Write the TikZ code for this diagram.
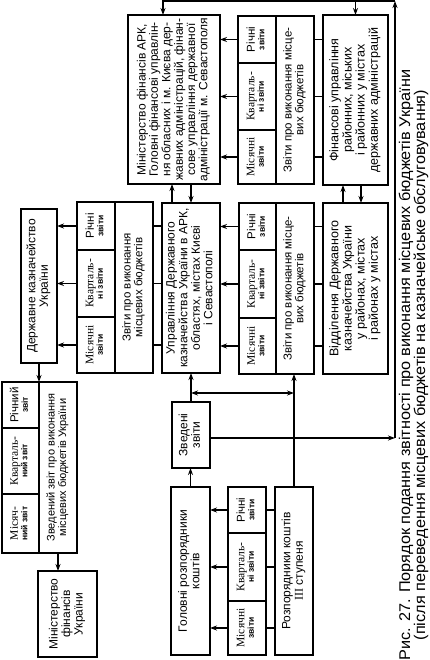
\documentclass[tikz,border=0pt]{standalone}
\usepackage{fontspec}
\setmainfont{Liberation Sans}
\newfontfamily\serf{Liberation Serif}
\newfontfamily\capf{Liberation Sans}[FakeStretch=1.05]
\usepackage{graphicx}
\usetikzlibrary{arrows.meta}
\tikzset{
 bx/.style={draw, line width=1.5pt, inner sep=0pt, outer sep=0pt},
 ln/.style={line width=1.2pt},
 arr/.style={line width=1.2pt, -{Stealth[length=7pt,width=5pt]}},
 darr/.style={line width=1.2pt, {Stealth[length=7pt,width=5pt]}-{Stealth[length=7pt,width=5pt]}},
}
\newcommand\bxn[6]{\pgfmathsetmacro\bxw{#4-#2}\pgfmathsetmacro\bxh{#5-#3}%
 \node[bx, minimum width=\bxw pt, minimum height=\bxh pt] (#1) at ({(#2+#4)/2},{(#3+#5)/2}) {\rotatebox{90}{#6}};}
\newcommand\tb[3]{\fontsize{#1}{#2}\selectfont\begin{tabular}{@{}c@{}}#3\end{tabular}}
\newcommand\repc[2]{\fontsize{11.5}{10.5}\selectfont\begin{tabular}{@{}c@{}}#1\\[-1pt]{\fontsize{8.5}{9}\selectfont\bfseries #2}\end{tabular}}
\begin{document}
\begin{tikzpicture}[x=1pt,y=-1pt]
\useasboundingbox (0,0) rectangle (430,660);
% main boxes
\bxn{mfark}{128}{15}{220}{184}{\tb{12}{12}{Міністерство фінансів АРК,\\Головні фінансові управлін-\\ня обласних і м. Києва дер-\\жавних адміністрацій, фінан-\\сове управління державної\\адміністрації м. Севастополя}}
\bxn{fin}{323}{15}{388}{185}{\tb{12.5}{13}{Фінансові управління\\районних, міських\\і районних у містах\\державних адміністрацій}}
\bxn{upr}{162}{203}{220}{373}{\tb{12}{12.5}{Управління Державного\\казначейства України в АРК,\\областях, містах Києві\\і Севастополі}}
\bxn{vid}{323}{203}{388}{374}{\tb{12.5}{13}{Відділення Державного\\казначейства України\\у районах, містах\\і районах у містах}}
\bxn{dk}{21}{209}{57}{363}{\tb{12}{12.5}{Державне казначейство\\України}}
% group A
\bxn{aRi}{238}{16}{276}{63}{\repc{Річні}{звіти}}
\bxn{aKv}{238}{63}{276}{130}{\repc{\serf Кварталь-}{ні звіти}}
\bxn{aMi}{238}{130}{276}{184}{\repc{\serf Місячні}{звіти}}
\bxn{aZ}{276}{16}{314}{184}{\tb{11.5}{11.5}{Звіти про виконання місце-\\вих бюджетів}}
% group B
\bxn{bRi}{239}{203}{276}{250}{\repc{Річні}{звіти}}
\bxn{bKv}{239}{250}{276}{318}{\repc{\serf Кварталь-}{ні звіти}}
\bxn{bMi}{239}{318}{276}{374}{\repc{\serf Місячні}{звіти}}
\bxn{bZ}{276}{203}{314}{374}{\tb{11.5}{11.5}{Звіти про виконання місце-\\вих бюджетів}}
% group C
\bxn{cRi}{77}{202}{115}{250}{\repc{Річні}{звіти}}
\bxn{cKv}{77}{250}{115}{317}{\repc{\serf Кварталь-}{ні звіти}}
\bxn{cMi}{77}{317}{115}{373}{\repc{\serf Місячні}{звіти}}
\bxn{cZ}{115}{202}{153}{373}{\tb{11.5}{11.5}{Звіти про виконання\\місцевих бюджетів}}
% consolidated group
\bxn{zRi}{2}{382}{39}{428}{\repc{Річний}{звіт}}
\bxn{zKv}{2}{428}{39}{494}{\repc{\serf Кварталь-}{ний звіт}}
\bxn{zMi}{2}{494}{39}{553}{\repc{\serf Місяч-}{ний звіт}}
\bxn{zZ}{39}{382}{77}{553}{\tb{11}{11.5}{Зведений звіт про виконання\\місцевих бюджетів України}}
\bxn{mfu}{38}{571}{97}{657}{\tb{12}{12.5}{Міністерство\\фінансів\\України}}
% lower part
\bxn{hol}{171}{487}{210}{655}{\tb{12}{12.5}{Головні розпорядники\\коштів}}
\bxn{dRi}{228}{487}{266}{533}{\repc{Річні}{звіти}}
\bxn{dKv}{228}{533}{266}{601}{\repc{\serf Кварталь-}{ні звіти}}
\bxn{dMi}{228}{601}{266}{655}{\repc{\serf Місячні}{звіти}}
\bxn{roz}{275}{487}{313}{655}{\tb{12}{12.5}{Розпорядники коштів\\{\serf III} ступеня}}
\bxn{zv}{172}{402}{210}{468}{\tb{12}{12.5}{Зведені\\звіти}}
% caption
\node[inner sep=0pt] (cap1) at (406,365) {\rotatebox{90}{\capf\fontsize{15.5}{15}\selectfont Рис. 27. Порядок подання звітності про виконання місцевих бюджетів України}};
\node[inner sep=0pt] (cap2) at (421,365) {\rotatebox{90}{\capf\fontsize{15.5}{15}\selectfont (після переведення місцевих бюджетів на казначейське обслуговування)}};
% report arrows and stubs
\foreach \g/\src/\dst in {a/fin/mfark, b/vid/upr, c/upr/dk}{
  \foreach \r in {Ri,Kv,Mi}{
    \draw[arr] (\g\r.west) -- (\g\r.west -| \dst.east);
    \draw[ln] (\g\r.center -| \src.west) -- (\g\r.center -| \g Z.east);
  }
}
\foreach \r in {Ri,Kv,Mi}{
  \draw[arr] (d\r.west) -- (d\r.west -| hol.east);
  \draw[ln] (d\r.east) -- (d\r.east -| roz.west);
}
% vertical links
\draw[arr] (upr.north -| 172,0) -- (mfark.south -| 172,0);
\draw[arr] (mfark.south -| 191,0) -- (upr.north -| 191,0);
\draw[arr] (vid.north -| 343,0) -- (fin.south -| 343,0);
\draw[arr] (fin.south -| 361,0) -- (vid.north -| 361,0);
\draw[arr] (dk.south) -- (dk.south |- zZ.north);
\draw[arr] (zZ.south) -- (zZ.south |- mfu.north);
\draw[arr] (hol.north) -- (hol.north |- zv.south);
\draw[arr] (zv.north) -- (zv.north |- upr.south);
\draw[arr] (roz.north) -- (roz.north |- bZ.south);
\draw[darr] (zv.north |- 0,393) -- (roz.north |- 0,393);
% return loop
\coordinate (br) at (395,438);
\coordinate (tr) at (395,1);
\draw[arr] (zv.east |- br) -- (br);
\draw[arr] (br) -- (tr);
\draw[arr] (tr) -| (mfark.north -| 163,0);
\draw[arr] (fin.north |- tr) -- (fin.north);
\end{tikzpicture}
\end{document}
